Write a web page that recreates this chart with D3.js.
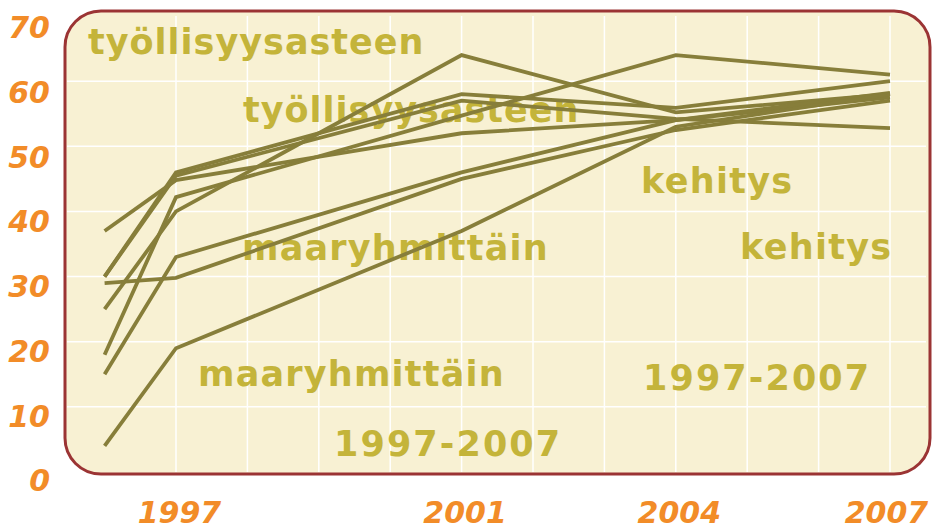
<!DOCTYPE html>
<html>
<head>
<meta charset="utf-8">
<script src="https://cdn.jsdelivr.net/npm/d3@7"></script>
<style>
  html, body { margin: 0; padding: 0; background: #ffffff; }
  svg { display: block; }
</style>
</head>
<body>
<svg id="chart" width="933" height="529"></svg>
<script>
// ---- data ----
const years = [1996, 1997, 2001, 2004, 2007];
const series1 = [30, 46, 58, 55.9, 60];
const series2 = [30, 45.5, 57, 54.2, 52.8];
const series3 = [37, 44.8, 52, 54, 57.5];
const series4 = [18, 42.2, 54.7, 64, 61];
const series5 = [25, 40, 64, 55.2, 58];
const series6 = [15, 33, 46, 54, 58.2];
const series7 = [29, 29.8, 45, 52.5, 57];
const series8 = [4, 19, 37, 53, 58];
const allSeries = [series1, series2, series3, series4, series5, series6, series7, series8];

const xTickYears = [1997, 2001, 2004, 2007];
const yTicks = [0, 10, 20, 30, 40, 50, 60, 70];
const gridYears = [1997, 1998, 1999, 2000, 2001, 2002, 2003, 2004, 2005, 2006, 2007];
const gridValues = [10, 20, 30, 40, 50, 60];

const labels = [
  { text: "työllisyysasteen", x: 88, y: 54, ls: 1.0 },
  { text: "työllisyysasteen", x: 243, y: 122, ls: 1.0 },
  { text: "kehitys", x: 641, y: 193, ls: 1.3 },
  { text: "maaryhmittäin", x: 242, y: 260, ls: 1.2 },
  { text: "kehitys", x: 740, y: 259, ls: 1.3 },
  { text: "maaryhmittäin", x: 198, y: 386, ls: 1.2 },
  { text: "1997-2007", x: 643, y: 390, ls: 2.1 },
  { text: "1997-2007", x: 334, y: 456, ls: 2.1 }
];

// ---- layout ----
const svg = d3.select("#chart");
const x = d3.scaleLinear().domain([1996, 2007]).range([104.6, 890]);
const y = d3.scaleLinear().domain([0, 70]).range([472, 16]);
const yLab = d3.scaleLinear().domain([0, 70]).range([480, 27]);

// background panel
svg.append("rect")
  .attr("x", 65).attr("y", 11)
  .attr("width", 865).attr("height", 463)
  .attr("rx", 36).attr("ry", 36)
  .attr("fill", "#F8F1D3")
  .attr("stroke", "#9B3434")
  .attr("stroke-width", 3);

// gridlines
svg.append("g").selectAll("line.h").data(gridValues).join("line")
  .attr("x1", 67).attr("x2", 926)
  .attr("y1", d => y(d)).attr("y2", d => y(d))
  .attr("stroke", "#ffffff").attr("stroke-width", 1.5);
svg.append("g").selectAll("line.v").data(gridYears).join("line")
  .attr("x1", d => x(d)).attr("x2", d => x(d))
  .attr("y1", 16).attr("y2", 472)
  .attr("stroke", "#ffffff").attr("stroke-width", 1.5);

// annotation text
svg.append("g").selectAll("text").data(labels).join("text")
  .attr("x", d => d.x).attr("y", d => d.y)
  .attr("font-family", "'DejaVu Sans', Verdana, sans-serif")
  .attr("font-weight", "bold")
  .attr("font-size", 35)
  .attr("letter-spacing", d => d.ls)
  .attr("fill", "#C4B43A")
  .text(d => d.text);

// lines
const line = d3.line().x((d, i) => x(years[i])).y(d => y(d));
svg.append("g").selectAll("path").data(allSeries).join("path")
  .attr("d", line)
  .attr("fill", "none")
  .attr("stroke", "#877E3A")
  .attr("stroke-width", 3.8)
  .attr("stroke-linejoin", "miter");

// y axis labels
const yAxis = d3.axisLeft(yLab).tickValues(yTicks).tickSize(0).tickPadding(0);
const gy = svg.append("g").attr("transform", "translate(50,0)").call(yAxis);
gy.select(".domain").remove();
gy.selectAll("text")
  .attr("font-family", "'DejaVu Sans', Verdana, sans-serif")
  .attr("font-weight", "bold")
  .attr("font-style", "italic")
  .attr("font-size", 30)
  .attr("fill", "#F28C28")
  .attr("dy", "0.36em");

// x axis labels
const xAxis = d3.axisBottom(x).tickValues(xTickYears).tickFormat(d3.format("d")).tickSize(0).tickPadding(0);
const gx = svg.append("g").attr("transform", "translate(3,0)").call(xAxis);
gx.select(".domain").remove();
gx.selectAll("text")
  .attr("y", 523)
  .attr("dy", 0)
  .attr("dx", d => d === 2007 ? -7 : 0)
  .attr("font-family", "'DejaVu Sans', Verdana, sans-serif")
  .attr("font-weight", "bold")
  .attr("font-style", "italic")
  .attr("font-size", 30)
  .attr("fill", "#F28C28");
</script>
</body>
</html>
